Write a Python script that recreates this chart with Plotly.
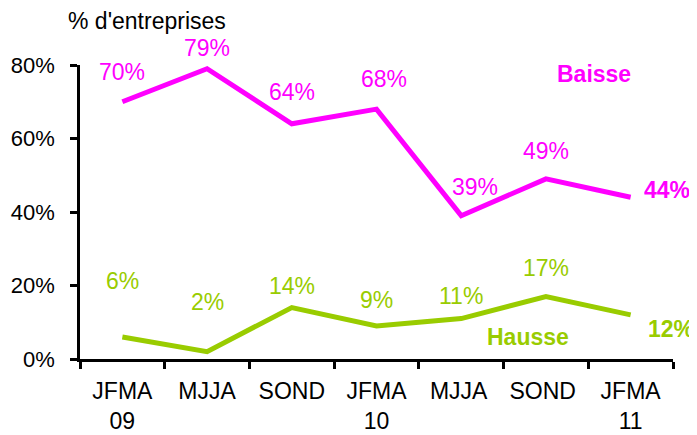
import plotly.graph_objects as go

categories = ["JFMA<br>09", "MJJA", "SOND", "JFMA<br>10", "MJJA ", "SOND ", "JFMA<br>11"]
baisse = [70, 79, 64, 68, 39, 49, 44]
hausse = [6, 2, 14, 9, 11, 17, 12]
y_ticks = [0, 20, 40, 60, 80]
y_tick_labels = ["0%", "20%", "40%", "60%", "80%"]

MAG = "#FF00FF"
GRN = "#99CC00"
FONT = "Arial, Liberation Sans, sans-serif"
FS = 23

fig = go.Figure()
fig.add_trace(go.Scatter(x=categories, y=baisse, mode="lines",
                         line=dict(color=MAG, width=5), showlegend=False))
fig.add_trace(go.Scatter(x=categories, y=hausse, mode="lines",
                         line=dict(color=GRN, width=5), showlegend=False))

b_shift = [30, 21, 32, 30, 29, 28]
b_xshift = [0, 0, 0, 7, 14, 0]
h_shift = [56, 50, 22, 26, 23, 29]

ann = []
n = len(categories)
for i in range(n):
    if i == n - 1:
        ann.append(dict(x=categories[i], y=baisse[i], text=f"<b>{baisse[i]}%</b>", showarrow=False,
                        xanchor="left", yanchor="middle", xshift=11, yshift=7,
                        font=dict(color=MAG, size=FS, family=FONT)))
        ann.append(dict(x=categories[i], y=hausse[i], text=f"<b>{hausse[i]}%</b>", showarrow=False,
                        xanchor="left", yanchor="middle", xshift=15, yshift=-14,
                        font=dict(color=GRN, size=FS, family=FONT)))
    else:
        ann.append(dict(x=categories[i], y=baisse[i], text=f"{baisse[i]}%", showarrow=False,
                        yanchor="middle", yshift=b_shift[i], xshift=b_xshift[i],
                        font=dict(color=MAG, size=FS, family=FONT)))
        ann.append(dict(x=categories[i], y=hausse[i], text=f"{hausse[i]}%", showarrow=False,
                        yanchor="middle", yshift=h_shift[i],
                        font=dict(color=GRN, size=FS, family=FONT)))

# page body margin offsets the figure by 8px
OFF = 8
L, R, T, B = 72, 24, 57, 76
W, H = 689, 427
pw, ph = W - L - R, H - T - B


def px_ann(px, py, text, color, xanchor="center"):
    fx, fy = px - OFF, py - OFF
    return dict(x=(fx - L) / pw, y=1 - (fy - T) / ph, xref="paper", yref="paper",
                text=text, showarrow=False, xanchor=xanchor, yanchor="middle",
                font=dict(color=color, size=FS, family=FONT))


ann.append(px_ann(594, 74, "<b>Baisse</b>", MAG))
ann.append(px_ann(528, 337, "<b>Hausse</b>", GRN))
ann.append(px_ann(66, 21, "% d'entreprises", "black", xanchor="left"))

fig.update_layout(
    width=W, height=H,
    margin=dict(l=L, r=R, t=T, b=B, autoexpand=False),
    plot_bgcolor="white", paper_bgcolor="white",
    font=dict(family=FONT, size=FS, color="black"),
    annotations=ann,
    xaxis=dict(type="category", range=[-0.5, 6.5], showline=True, linecolor="black", linewidth=2.5,
               ticks="outside", tickson="boundaries", ticklen=7, tickwidth=2.5, tickcolor="black",
               showgrid=False, zeroline=False, tickfont=dict(size=23), ticklabelstandoff=10,
               automargin=False),
    yaxis=dict(range=[0, 80], tickvals=y_ticks, ticktext=y_tick_labels, showline=True,
               linecolor="black", linewidth=2.5, ticks="outside", ticklen=7, tickwidth=2.5,
               tickcolor="black", showgrid=False, zeroline=False, tickfont=dict(size=22),
               ticklabelstandoff=11, automargin=False),
)
fig.write_html("out.html")
